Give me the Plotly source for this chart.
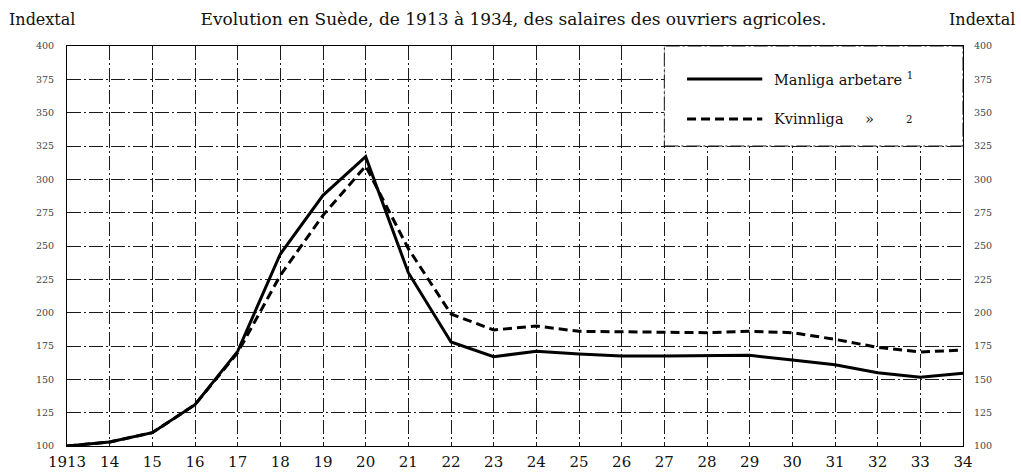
import plotly.graph_objects as go

years = list(range(1913, 1935))
year_labels = ["1913"] + [str(y)[2:] for y in range(1914, 1935)]
men = [100, 103, 110, 131, 171, 244, 288, 317, 230, 178, 167, 171, 169, 167.5,
       167.5, 167.5, 168, 164.5, 161, 155, 151.5, 154.5]
women = [100, 103, 110, 131, 170, 228, 273, 310, 248, 199, 187, 190, 186, 185.5,
         185, 185, 186, 185, 180, 174, 170.5, 172]
y_ticks = list(range(100, 401, 25))

SERIF = "DejaVu Serif"
GRID = "#1a1a1a"
GRID_DASH = "14px,3px,2px,3px"

fig = go.Figure()
fig.add_trace(go.Scatter(x=years, y=men, mode="lines", name="Manliga arbetare",
                         line=dict(color="black", width=3), showlegend=False,
                         yaxis="y"))
fig.add_trace(go.Scatter(x=years, y=women, mode="lines", name="Kvinnliga",
                         line=dict(color="black", width=3, dash="9px,5px"),
                         showlegend=False, yaxis="y2"))

axis_common = dict(showline=True, linecolor="black", linewidth=1, zeroline=False,
                   automargin=False)

fig.update_layout(
    width=1021, height=474,
    margin=dict(l=67, r=58, t=46, b=28),
    paper_bgcolor="white", plot_bgcolor="white",
    font=dict(family=SERIF, color="#111"),
    title=dict(text="Evolution en Suède, de 1913 à 1934, des salaires des ouvriers agricoles.",
               x=0.503, xanchor="center", y=1 - 19 / 474, yanchor="middle",
               font=dict(family=SERIF, size=17, color="#111")),
    xaxis=dict(range=[1913, 1934], tickvals=years, ticktext=year_labels,
               showgrid=True, gridcolor=GRID, gridwidth=1, griddash=GRID_DASH,
               ticks="", tickfont=dict(family=SERIF, size=15, color="#111"),
               ticklabelstandoff=2,
               mirror=True, **axis_common),
    yaxis=dict(range=[100, 400], tickvals=y_ticks, showgrid=True, gridcolor=GRID,
               gridwidth=1, griddash=GRID_DASH, ticks="",
               ticklabelstandoff=10,
               tickfont=dict(family=SERIF, size=9.5, color="#444"),
               mirror=True, **axis_common),
    yaxis2=dict(range=[100, 400], tickvals=y_ticks, overlaying="y", side="right",
                showgrid=False, zeroline=False, ticks="", ticklabelstandoff=10,
                automargin=False,
                tickfont=dict(family=SERIF, size=9.5, color="#444")),
)

# Legend box (white area over grid)
fig.add_shape(type="rect", xref="x", yref="y", x0=1927, x1=1934, y0=325, y1=400,
              fillcolor="white", line=dict(color=GRID, width=1, dash=GRID_DASH),
              layer="between")

# Legend keys
fig.add_shape(type="line", xref="paper", yref="paper", x0=0.692, x1=0.776,
              y0=0.9175, y1=0.9175, line=dict(color="black", width=3))
fig.add_shape(type="line", xref="paper", yref="paper", x0=0.692, x1=0.776,
              y0=0.8175, y1=0.8175, line=dict(color="black", width=3, dash="9px,5px"))

fig.add_annotation(text="Manliga arbetare <sup>1</sup>", xref="paper", yref="paper",
                   x=0.787, y=0.9175, xanchor="left", yanchor="middle", showarrow=False,
                   font=dict(family=SERIF, size=14.5, color="#111"))
fig.add_annotation(text="Kvinnliga", xref="paper", yref="paper",
                   x=0.787, y=0.8175, xanchor="left", yanchor="middle", showarrow=False,
                   font=dict(family=SERIF, size=14.5, color="#111"))
fig.add_annotation(text="»", xref="paper", yref="paper",
                   x=0.896, y=0.8175, xanchor="center", yanchor="middle", showarrow=False,
                   font=dict(family=SERIF, size=14.5, color="#111"))
fig.add_annotation(text="<sup>2</sup>", xref="paper", yref="paper",
                   x=0.94, y=0.8175, xanchor="center", yanchor="middle", showarrow=False,
                   font=dict(family=SERIF, size=14.5, color="#111"))

# Axis captions
fig.add_annotation(text="Indextal", xref="paper", yref="paper", x=(7 - 67) / 896,
                   y=1 + 27 / 400, xanchor="left", yanchor="middle", showarrow=False,
                   font=dict(family=SERIF, size=16, color="#111"))
fig.add_annotation(text="Indextal", xref="paper", yref="paper", x=(1017 - 67) / 896,
                   y=1 + 27 / 400, xanchor="right", yanchor="middle", showarrow=False,
                   font=dict(family=SERIF, size=16, color="#111"))

fig.write_html("out.html", config={"displayModeBar": False},
               post_script="document.body.style.margin='0';")
